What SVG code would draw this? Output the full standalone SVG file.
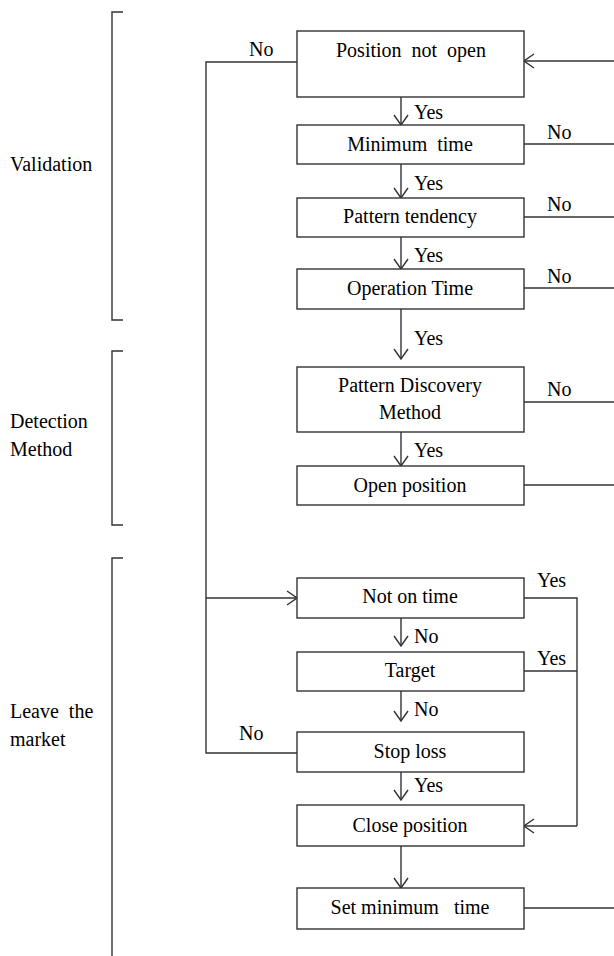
<svg xmlns="http://www.w3.org/2000/svg" width="614" height="956" viewBox="0 0 614 956">
<defs>
<marker id="ah" viewBox="0 0 12 16" refX="11" refY="8" markerWidth="12" markerHeight="16" markerUnits="userSpaceOnUse" orient="auto">
<path d="M1,1 L11,8 L1,15" fill="none" stroke="#333" stroke-width="1.4"/>
</marker>
<style>
text{font-family:'Liberation Serif','Times New Roman',serif;font-size:20px;fill:#000}
.c{text-anchor:middle}
.box{fill:#fff;stroke:#333;stroke-width:1.4}
.ln{fill:none;stroke:#333;stroke-width:1.4}
.ar{fill:none;stroke:#333;stroke-width:1.4;marker-end:url(#ah)}
</style>
</defs>
<rect width="614" height="956" fill="#fff"/>
<g id="brackets">
<path class="ln" d="M123,12 H112 V320 H123"/>
<path class="ln" d="M123,351 H112 V525 H123"/>
<path class="ln" d="M123,558 H112 V956"/>
<text x="10" y="171">Validation</text>
<text x="10" y="428">Detection</text>
<text x="10" y="456">Method</text>
<text x="10" y="718" xml:space="preserve">Leave  the</text>
<text x="10" y="746">market</text>
</g>
<g id="connectors">
<path class="ln" d="M297,62 H206 V753 H297"/>
<path class="ar" d="M206,598 H297"/>
<path class="ar" d="M614,61 H524"/>
<path class="ln" d="M524,144 H614"/>
<path class="ln" d="M524,217 H614"/>
<path class="ln" d="M524,288 H614"/>
<path class="ln" d="M524,402 H614"/>
<path class="ln" d="M524,485 H614"/>
<path class="ln" d="M524,908 H614"/>
<path class="ln" d="M524,598 H577 V826"/>
<path class="ln" d="M524,671 H577"/>
<path class="ar" d="M577,826 H524"/>
<path class="ar" d="M401,97 V125"/>
<path class="ar" d="M401,164 V198"/>
<path class="ar" d="M401,237 V269"/>
<path class="ar" d="M401,309 V359"/>
<path class="ar" d="M401,432 V466"/>
<path class="ar" d="M401,618 V646"/>
<path class="ar" d="M401,691 V721"/>
<path class="ar" d="M401,772 V800"/>
<path class="ar" d="M401,846 V888"/>
<text x="249" y="56">No</text>
<text x="414" y="119">Yes</text>
<text x="547" y="139">No</text>
<text x="414" y="190">Yes</text>
<text x="547" y="211">No</text>
<text x="414" y="262">Yes</text>
<text x="547" y="283">No</text>
<text x="414" y="345">Yes</text>
<text x="547" y="396">No</text>
<text x="414" y="457">Yes</text>
<text x="537" y="587">Yes</text>
<text x="414" y="643">No</text>
<text x="537" y="665">Yes</text>
<text x="414" y="716">No</text>
<text x="239" y="740">No</text>
<text x="414" y="792">Yes</text>
</g>
<g id="n1"><rect class="box" x="297" y="31" width="227" height="66"/><text class="c" x="411" y="57" xml:space="preserve">Position  not  open</text></g>
<g id="n2"><rect class="box" x="297" y="125" width="227" height="39"/><text class="c" x="410" y="151" xml:space="preserve">Minimum  time</text></g>
<g id="n3"><rect class="box" x="297" y="198" width="227" height="39"/><text class="c" x="410" y="223">Pattern tendency</text></g>
<g id="n4"><rect class="box" x="297" y="269" width="227" height="40"/><text class="c" x="410" y="295">Operation Time</text></g>
<g id="n5"><rect class="box" x="297" y="367" width="227" height="65"/><text class="c" x="410" y="392">Pattern Discovery</text><text class="c" x="410" y="419">Method</text></g>
<g id="n6"><rect class="box" x="297" y="466" width="227" height="39"/><text class="c" x="410" y="492">Open position</text></g>
<g id="n7"><rect class="box" x="297" y="578" width="227" height="40"/><text class="c" x="410" y="603">Not on time</text></g>
<g id="n8"><rect class="box" x="297" y="652" width="227" height="39"/><text class="c" x="410" y="677">Target</text></g>
<g id="n9"><rect class="box" x="297" y="732" width="227" height="40"/><text class="c" x="410" y="758">Stop loss</text></g>
<g id="n10"><rect class="box" x="297" y="805" width="227" height="41"/><text class="c" x="410" y="832">Close position</text></g>
<g id="n11"><rect class="box" x="297" y="888" width="227" height="41"/><text class="c" x="410" y="914" xml:space="preserve">Set minimum   time</text></g>
</svg>
